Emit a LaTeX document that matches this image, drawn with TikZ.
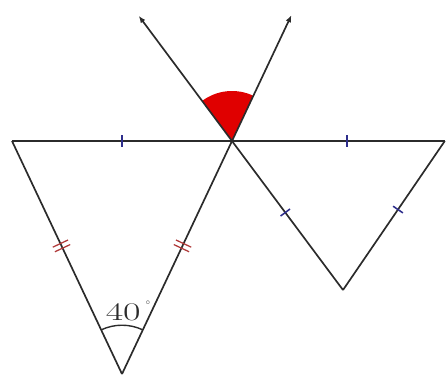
\documentclass[tikz,border=0pt]{standalone}
\usepackage{tikz}
\usetikzlibrary{arrows.meta, calc, decorations.markings}
\definecolor{ink}    {HTML}{2B2B2B}
\definecolor{tickblu}{HTML}{2E2E8C}
\definecolor{tickred}{HTML}{B03A3A}
\definecolor{fillred}{HTML}{E00000}
\tikzset{
    side/.style={draw=ink, line width=1.2pt},
    onetick/.style={postaction={decorate}, decoration={markings,
        mark=at position #1 with {\draw[tickblu, line width=1.1pt] (0,-4.2pt) -- (0,4.2pt);}}},
    twotick/.style={postaction={decorate}, decoration={markings,
        mark=at position #1 with {\draw[tickred, line width=0.9pt]
            (-1.8pt,-6pt) -- (-1.8pt,6pt) (1.8pt,-6pt) -- (1.8pt,6pt);}}},
    ray/.style={side, -{Latex[length=5pt, width=4pt]}}
}
\begin{document}
\begin{tikzpicture}
    \useasboundingbox (0,0) rectangle (11.15,9.4);
    % points of the two triangles
    \coordinate (A) at (0.3, 5.875);
    \coordinate (V) at (5.8, 5.875);
    \coordinate (B) at (11.12, 5.875);
    \coordinate (C) at (3.05, 0.05);
    \coordinate (D) at (8.575, 2.15);
    \coordinate (L) at ($(V)!-0.84!(D)$);
    \coordinate (R) at ($(V)!-0.54!(C)$);
    % vertical angle
    \fill[fillred] (V) -- ++(64.73:1.25) arc[start angle=64.73, end angle=126.69, radius=1.25] -- cycle;
    % sides
    \draw[side, onetick=0.5] (A) -- (V);
    \draw[side, onetick=0.54] (V) -- (B);
    \draw[side, twotick=0.55] (C) -- (A);
    \draw[side, twotick=0.55] (C) -- (V);
    \draw[side, onetick=0.48] (V) -- (D);
    \draw[side, onetick=0.46] (B) -- (D);
    \draw[ray] (V) -- (L);
    \draw[ray] (V) -- (R);
    % angle at the bottom
    \draw[ink, line width=1pt] ($(C)+(64.73:1.22)$) arc[start angle=64.73, end angle=115.27, radius=1.22];
    \node[ink, font=\fontsize{18}{20}\selectfont, xscale=1.5] (ang) at (3.08, 1.6) {40};
    \node[ink, font=\tiny, inner sep=0pt] (deg) at (3.7, 1.83) {$\circ$};
\end{tikzpicture}
\end{document}
